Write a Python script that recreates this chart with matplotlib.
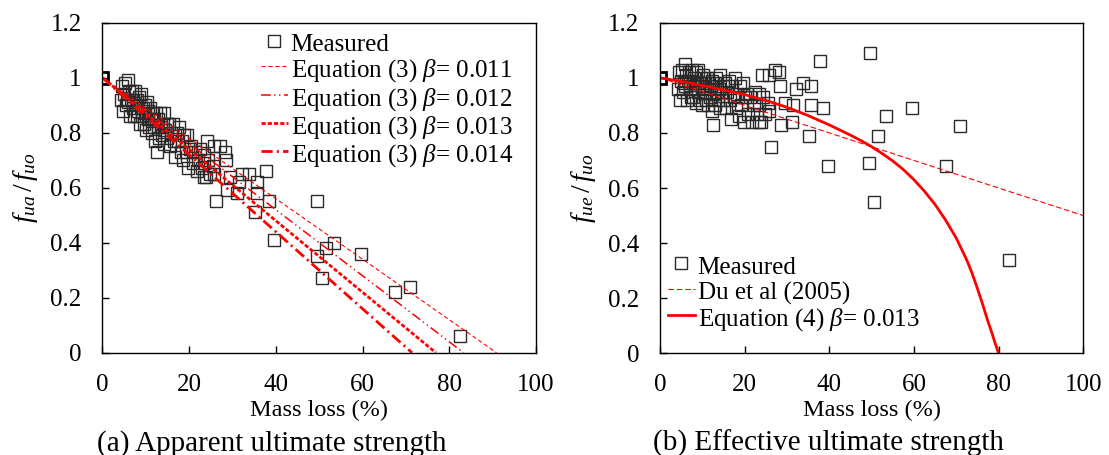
import matplotlib
matplotlib.use("Agg")
import matplotlib.pyplot as plt

plt.rcParams['font.family'] = ['Liberation Serif', 'DejaVu Serif']
plt.rcParams['mathtext.fontset'] = 'custom'
plt.rcParams['mathtext.rm'] = 'Liberation Serif'
plt.rcParams['mathtext.it'] = 'Liberation Serif:italic'
plt.rcParams['lines.scale_dashes'] = False

# measured specimens: mass loss (%), apparent and effective strength ratios
mass_loss = [4.2, 4.5, 4.8, 5.0, 5.3, 5.5, 5.7, 5.9, 6.0, 6.2,
             6.4, 6.6, 6.8, 7.0, 7.1, 7.3, 7.5, 7.7, 7.9, 8.0,
             8.2, 8.4, 8.6, 8.8, 9.0, 9.1, 9.3, 9.5, 9.7, 9.9,
             10.0, 10.2, 10.4, 10.6, 10.8, 11.0, 11.2, 11.4, 11.6, 11.8,
             12.0, 12.2, 12.4, 12.5, 12.7, 12.9, 13.1, 13.3, 13.5, 13.7,
             13.9, 14.1, 14.3, 14.5, 14.8, 15.0, 15.3, 15.6, 15.9, 16.2,
             16.5, 16.8, 17.1, 17.4, 17.7, 18.0, 18.3, 18.6, 18.9, 19.2,
             19.5, 19.8, 20.1, 20.5, 20.9, 21.3, 21.7, 22.1, 22.5, 23.0,
             23.4, 23.9, 24.4, 24.9, 25.5,
             82.4, 70.9, 67.5, 59.6, 53.3, 51.6, 50.6, 49.4, 49.6, 39.6,
             38.5, 37.7, 35.1, 35.6, 35.6, 33.7, 32.2, 31.1, 26.3, 28.7,
             28.2, 28.4, 27.2, 25.8, 24.0, 29.5, 25.8, 23.5, 31.4, 23.4]

fua_ratio = [0.92, 0.97, 0.88, 0.94, 0.98, 0.90, 0.92, 0.99, 0.91, 0.95,
             0.86, 0.92, 0.95, 0.89, 0.92, 0.86, 0.95, 0.90, 0.86, 0.92,
             0.88, 0.93, 0.83, 0.89, 0.94, 0.86, 0.89, 0.83, 0.90, 0.87,
             0.81, 0.91, 0.85, 0.88, 0.82, 0.89, 0.85, 0.80, 0.87, 0.82,
             0.85, 0.77, 0.87, 0.73, 0.82, 0.85, 0.78, 0.87, 0.82, 0.79,
             0.83, 0.87, 0.76, 0.81, 0.83, 0.78, 0.83, 0.75, 0.80, 0.83,
             0.77, 0.71, 0.80, 0.77, 0.82, 0.73, 0.77, 0.70, 0.79, 0.73,
             0.79, 0.67, 0.74, 0.75, 0.69, 0.73, 0.66, 0.70, 0.74, 0.67,
             0.69, 0.64, 0.70, 0.65, 0.68,
             0.06, 0.24, 0.22, 0.36, 0.40, 0.38, 0.27, 0.35, 0.55, 0.41,
             0.55, 0.66, 0.51, 0.58, 0.62, 0.65, 0.65, 0.58, 0.55, 0.59,
             0.73, 0.70, 0.75, 0.75, 0.77, 0.64, 0.65, 0.64, 0.62, 0.72]

fue_ratio = [0.96, 1.02, 0.92, 0.99, 1.03, 0.95, 0.98, 1.05, 0.97, 1.01,
             0.92, 0.99, 1.02, 0.96, 0.99, 0.93, 1.03, 0.98, 0.93, 1.00,
             0.96, 1.02, 0.91, 0.98, 1.03, 0.95, 0.98, 0.92, 1.00, 0.97,
             0.90, 1.01, 0.95, 0.98, 0.92, 1.00, 0.96, 0.90, 0.98, 0.93,
             0.97, 0.88, 0.99, 0.83, 0.94, 0.98, 0.90, 1.00, 0.95, 0.92,
             0.96, 1.01, 0.89, 0.95, 0.97, 0.92, 0.98, 0.89, 0.95, 0.99,
             0.92, 0.85, 0.97, 0.93, 1.00, 0.89, 0.94, 0.86, 0.97, 0.90,
             0.98, 0.84, 0.93, 0.94, 0.87, 0.93, 0.84, 0.90, 0.95, 0.87,
             0.90, 0.84, 0.93, 0.87, 0.91,
             0.34, 0.825, 0.68, 0.89, 0.86, 0.79, 0.55, 0.69, 1.09, 0.68,
             0.89, 1.06, 0.79, 0.90, 0.97, 0.98, 0.96, 0.84, 0.75, 0.83,
             1.02, 0.97, 1.03, 1.01, 1.01, 0.91, 0.88, 0.84, 0.90, 0.94]

# uncorroded reference bar
ref_x = [0]
ref_y = [1.0]

# Equation (3): straight lines from (0, 1) to the zero crossing
eq3_betas = ["0.011", "0.012", "0.013", "0.014"]
eq3_x = [[0, 90.9], [0, 83.3], [0, 76.9], [0, 71.4]]
eq3_y = [[1, 0], [1, 0], [1, 0], [1, 0]]

# Du et al (2005)
du_x = [0, 100]
du_y = [1.0, 0.5]

# Equation (4), beta = 0.013
eq4_x = [0, 5, 10, 15, 20, 25, 30, 35, 40, 45, 47.5, 50, 52.5, 55, 57.5, 60,
         62.5, 65, 67.5, 70, 72.5, 73.75, 75, 76.25, 77.5, 78.5, 79, 80]
eq4_y = [1.0, 0.987, 0.972, 0.956, 0.939, 0.918, 0.893, 0.863, 0.829, 0.792, 0.772,
         0.750, 0.725, 0.698, 0.667, 0.630, 0.588, 0.540, 0.483, 0.418, 0.338,
         0.290, 0.235, 0.177, 0.115, 0.070, 0.045, 0.0]

fig = plt.figure(figsize=(11.09, 4.55), dpi=100)
ax1 = fig.add_axes([0.0924, 0.2248, 0.3909, 0.7253])
ax2 = fig.add_axes([0.5951, 0.2235, 0.3817, 0.7266])

mk = dict(marker='s', ls='none', ms=8.5, mfc='none', mec='#2a2a2a', mew=1.0)

ax1.plot(mass_loss, fua_ratio, label='Measured', **mk)
ax1.plot(ref_x, ref_y, marker='s', ls='none', ms=8.5, mfc='none', mec='black', mew=2)
styles = [dict(lw=0.8, dashes=(3, 2)),
          dict(lw=1.1, dashes=(7, 2.5, 1, 2.5, 1, 2.5)),
          dict(lw=2.0, dashes=(3, 1.5)),
          dict(lw=2.0, dashes=(8, 3, 1.5, 3))]
for b, xs, ys, st in zip(eq3_betas, eq3_x, eq3_y, styles):
    ax1.plot(xs, ys, color='red', label=r'Equation (3) $\beta$= ' + b, **st)

ax2.plot(mass_loss, fue_ratio, label='Measured', **mk)
ax2.plot(ref_x, ref_y, marker='s', ls='none', ms=8.5, mfc='none', mec='black', mew=2)
ax2.plot(du_x, du_y, color='red', lw=0.8, dashes=(4, 2), label='Du et al (2005)')
ax2.plot(eq4_x, eq4_y, color='red', lw=2.0, solid_joinstyle='round',
         label=r'Equation (4) $\beta$= 0.013')

for ax in (ax1, ax2):
    ax.set_xlim(0, 100)
    ax.set_ylim(0, 1.2)
    ax.set_xticks([0, 20, 40, 60, 80, 100])
    ax.set_yticks([0, 0.2, 0.4, 0.6, 0.8, 1.0, 1.2])
    ax.set_yticklabels(['0', '0.2', '0.4', '0.6', '0.8', '1', '1.2'])
    ax.tick_params(direction='in', length=5, width=1, labelsize=18, pad=15)
    for s in ax.spines.values():
        s.set_linewidth(1.0)
    ax.set_xlabel('Mass loss (%)', fontsize=17.5, labelpad=3)

ax1.set_ylabel(r'$f_{ua}\,/\,f_{uo}$', fontsize=20)
ax2.set_ylabel(r'$f_{ue}\,/\,f_{uo}$', fontsize=20)
ax1.yaxis.set_label_coords(-62 / 433.5, 0.5)
ax2.yaxis.set_label_coords(-62 / 423.3, 0.5)

leg_kw = dict(loc='upper left', frameon=False, fontsize=18, handlelength=1.1,
              handleheight=1.2, handletextpad=0.1, labelspacing=-0.02,
              borderpad=0, borderaxespad=0)
ax1.legend(bbox_to_anchor=(0.365, 0.978), **leg_kw)
ax2.legend(bbox_to_anchor=(0.018, 0.305), **leg_kw)

fig.text(0.245, 0.026, '(a) Apparent ultimate strength', fontsize=21, ha='center', va='center')
fig.text(0.747, 0.026, '(b) Effective ultimate strength', fontsize=21, ha='center', va='center')

plt.savefig('out.png', dpi=100)
